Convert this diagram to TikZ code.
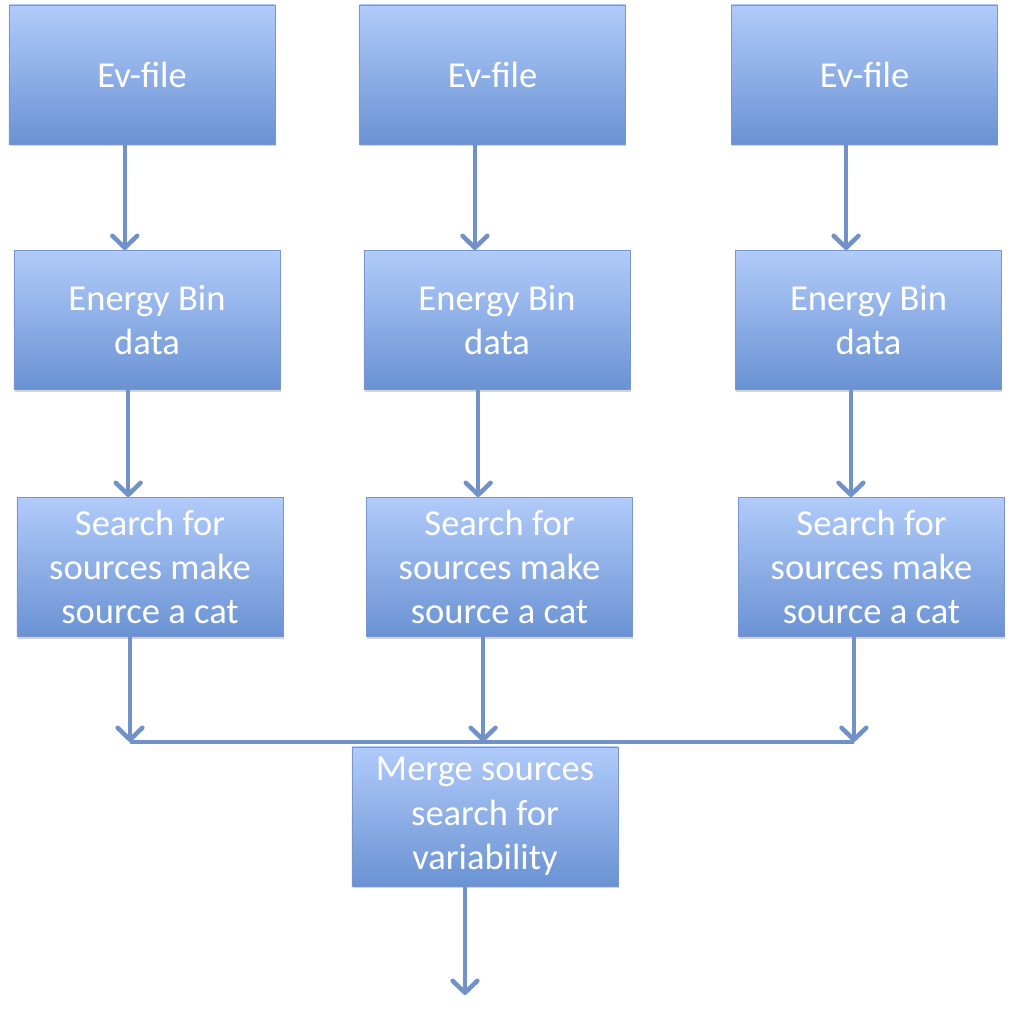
\documentclass[tikz,border=0pt]{standalone}
\usepackage{fontspec}
\setmainfont{Carlito}
\usepackage{tikz}
\usetikzlibrary{arrows.meta,shadows}
\definecolor{boxtop}{HTML}{B1CBFA}
\definecolor{boxbot}{HTML}{6A92D3}
\definecolor{boxline}{HTML}{7896CC}
\definecolor{flowc}{HTML}{7092C8}
\begin{document}
\begin{tikzpicture}[x=0.025cm,y=-0.025cm, % 以像素为单位
	blk/.style={draw=boxline,line width=0.6pt,top color=boxtop,bottom color=boxbot,
		minimum width=6.65cm,minimum height=3.475cm,inner sep=0pt,align=center,
		text=white,font=\fontsize{26}{31.5}\selectfont,
		drop shadow={shadow xshift=0.4pt,shadow yshift=-1.6pt,opacity=0.35}},
	flow/.style={draw=flowc,line width=3.2pt,-{Straight Barb[length=0.3cm,width=0.62cm,line width=3.2pt,round]}},
	bus/.style={draw=flowc,line width=3.2pt}]
	\useasboundingbox (0,0) rectangle (1015,1021);
	\node[blk](E1) at (142,74.5) {Ev-file};
	\node[blk](E2) at (492.5,74.5) {Ev-file};
	\node[blk](E3) at (864.5,74.5) {Ev-file};
	\node[blk](B1) at (147,320) {Energy Bin\\data};
	\node[blk](B2) at (497,320) {Energy Bin\\data};
	\node[blk](B3) at (868.5,320) {Energy Bin\\data};
	\node[blk](S1) at (150,567) {Search for\\sources make\\source a cat};
	\node[blk](S2) at (499.5,567) {Search for\\sources make\\source a cat};
	\node[blk](S3) at (871.5,567) {Search for\\sources make\\source a cat};
	\node[blk](M) at (485,816.5) {Merge sources\\search for\\variability};
	\coordinate(J) at (0,742);
	\coordinate(Out) at (0,995);
	\draw[flow] ([xshift=-0.43cm]E1.south) -- ([xshift=-0.43cm]E1.south |- B1.north);
	\draw[flow] ([xshift=-0.44cm]E2.south) -- ([xshift=-0.44cm]E2.south |- B2.north);
	\draw[flow] ([xshift=-0.46cm]E3.south) -- ([xshift=-0.46cm]E3.south |- B3.north);
	\draw[flow] ([xshift=-0.47cm]B1.south) -- ([xshift=-0.47cm]B1.south |- S1.north);
	\draw[flow] ([xshift=-0.47cm]B2.south) -- ([xshift=-0.47cm]B2.south |- S2.north);
	\draw[flow] ([xshift=-0.44cm]B3.south) -- ([xshift=-0.44cm]B3.south |- S3.north);
	\draw[flow] ([xshift=-0.5cm]S1.south) -- ([xshift=-0.5cm]S1.south |- J);
	\draw[flow] ([xshift=-0.41cm]S2.south) -- ([xshift=-0.41cm]S2.south |- J);
	\draw[flow] ([xshift=-0.44cm]S3.south) -- ([xshift=-0.44cm]S3.south |- J);
	\draw[bus] ([xshift=-0.5cm]S1.south |- J) -- ([xshift=-0.44cm]S3.south |- J);
	\draw[flow] ([xshift=-0.5cm]M.south) -- ([xshift=-0.5cm]M.south |- Out);
\end{tikzpicture}
\end{document}
